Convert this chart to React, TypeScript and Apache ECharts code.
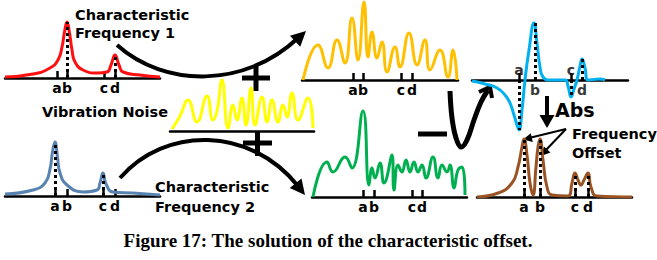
import React, { useEffect, useRef } from "react";
import * as echarts from "echarts";

// ---------- data (x: frequency position, y: amplitude above baseline) ----------
const tickNames = ["a", "b", "c", "d"];

const redCurve: [number, number][] = [
  [5, 1], [33, 4], [50, 10], [58, 18], [62, 31], [64.5, 46], [67, 56], [69.5, 45], [72, 28], [75, 16],
  [83, 8], [97, 5], [107, 6], [111, 13], [115, 23], [119, 13], [123, 6], [140, 3], [160, 1],
];
const redTicks = [57, 67, 104, 115];
const redDots: [number, number][] = [[67, 56], [115, 23]];

const blueCurve: [number, number][] = [
  [5, 2], [33, 6], [45, 13], [50, 27], [52.5, 44], [55, 54], [57.5, 39], [60, 23], [67, 11], [83, 4],
  [97, 6], [100, 13], [103, 23], [106, 12], [113, 4], [133, 3], [160, 1],
];
const blueTicks = [55, 67, 103, 115];
const blueDots: [number, number][] = [[55, 54], [103, 23]];

const yellowCurve: [number, number][] = [
  [172, 2], [180, 15], [188, 31], [197, 9], [207, 35], [213, 11], [217, 20], [222, 51], [228, 3],
  [233, 26], [237, 11], [242, 33], [246, 6], [251, 43], [255, 6], [262, 34], [267, 9], [272, 31],
  [278, 9], [283, 26], [287, 14], [292, 38], [298, 11], [308, 33], [313, 3],
];

const orangeCurve: [number, number][] = [
  [303, 0], [318, 35], [328, 12], [337, 40], [345, 17], [352, 62], [358, 20], [364, 78], [368, 23],
  [372, 48], [377, 22], [382, 38], [387, 8], [395, 33], [400, 13], [409, 47], [417, 15], [425, 40],
  [430, 10], [440, 30], [448, 3], [453, 30], [457, 0],
];
const orangeTicks = [353, 363, 401, 412];

const greenCurve: [number, number][] = [
  [313, 0], [327, 35], [333, 25], [345, 40], [352, 29], [363, 86], [369, 12], [372, 29], [375, 19],
  [380, 34], [384, 14], [392, 42], [394, 7], [398, 32], [402, 25], [406, 37], [410, 25], [414, 35],
  [418, 25], [422, 32], [426, 19], [433, 40], [438, 19], [442, 32], [447, 25], [450, 32], [454, 9],
  [458, 27], [462, 30], [465, 2],
];
const greenTicks = [363, 374, 412, 422];

const cyanCurve: [number, number][] = [
  [472, -1], [485, -4], [497, -8], [505, -15], [510, -23], [514, -35], [517, -45], [519, -50],
  [522, -30], [525, 0], [529, 30], [534, 57], [537, 37], [540, 13], [543, 3], [550, 0], [565, 0],
  [568, -6], [571, -17], [574, -9], [577, 0], [580, 14], [582, 21], [585, 12], [588, 0], [600, 1], [605, 0],
];
const cyanTicks = [519, 535, 571, 582];
const cyanDots: [number, number][] = [[519, -50], [535, 57], [571, -17], [582, 21]];

const brownCurve: [number, number][] = [
  [477, 0], [498, 4], [512, 14], [518, 30], [522, 50], [524, 58], [527, 42], [530, 14], [533, 2],
  [536, 30], [538, 50], [540, 58], [543, 37], [547, 10], [552, 2], [568, 1], [572, 14], [575, 24],
  [578, 17], [581, 12], [584, 17], [588, 24], [591, 10], [597, 1], [632, 0],
];
const brownTicks = [524, 540, 575, 588];
const brownDots: [number, number][] = [[524, 58], [540, 58], [575, 24], [588, 24]];

// ---------- layout ----------
type Panel = {
  color: string;
  curve: [number, number][];
  ticks: number[] | null;
  dots: [number, number][];
  x: [number, number];
  base: number;
  y: [number, number];
  split?: boolean;
};

const panels: Panel[] = [
  { color: "#ff1010", curve: redCurve, ticks: redTicks, dots: redDots, x: [5, 160], base: 78, y: [0, 60] },
  { color: "#5882b0", curve: blueCurve, ticks: blueTicks, dots: blueDots, x: [5, 160], base: 196, y: [0, 60] },
  { color: "#ffff00", curve: yellowCurve, ticks: null, dots: [], x: [170, 314], base: 131, y: [0, 55] },
  { color: "#ffc000", curve: orangeCurve, ticks: orangeTicks, dots: [], x: [302, 458], base: 80, y: [0, 80] },
  { color: "#00b050", curve: greenCurve, ticks: greenTicks, dots: [], x: [312, 467], base: 197, y: [0, 90] },
  { color: "#00b0f0", curve: cyanCurve, ticks: cyanTicks, dots: cyanDots, x: [472, 628], base: 80, y: [-55, 60], split: true },
  { color: "#9a5424", curve: brownCurve, ticks: brownTicks, dots: brownDots, x: [477, 632], base: 197, y: [0, 60] },
];

const LABEL_FONT = "DejaVu Sans";

function nameOf(ticks: number[], v: number) {
  const i = ticks.findIndex((t) => Math.abs(t - v) < 0.01);
  return i >= 0 ? tickNames[i] : "";
}

function arrowHead(tx: number, ty: number, dx: number, dy: number, len: number, half: number) {
  const n = Math.hypot(dx, dy);
  const ux = dx / n, uy = dy / n;
  const bx = tx - ux * len, by = ty - uy * len;
  return [[tx, ty], [bx - uy * half, by + ux * half], [bx + uy * half, by - ux * half]];
}

function buildOption() {
  const grid: any[] = [];
  const xAxis: any[] = [];
  const yAxis: any[] = [];
  const series: any[] = [];

  const labelBase = {
    fontFamily: LABEL_FONT,
    fontWeight: "bold",
    fontSize: 14,
    color: "#000",
  };

  panels.forEach((p, i) => {
    grid.push({
      left: p.x[0],
      width: p.x[1] - p.x[0],
      top: p.base - p.y[1],
      height: p.y[1] - p.y[0],
      containLabel: false,
    });
    const ticks = p.ticks || [];
    const axisTicksOn = !!p.ticks && !p.split;
    xAxis.push({
      type: "value",
      gridIndex: i,
      min: p.x[0],
      max: p.x[1],
      position: "bottom",
      splitLine: { show: false },
      axisLine: { show: true, onZero: true, lineStyle: { color: "#000", width: 2.5 } },
      axisTick: axisTicksOn
        ? { show: true, inside: true, length: 7, customValues: ticks, lineStyle: { color: "#000", width: 2.5 } }
        : { show: false },
      axisLabel: axisTicksOn
        ? {
            ...labelBase,
            show: true,
            margin: 3,
            customValues: ticks,
            formatter: (v: number) => nameOf(ticks, v),
          }
        : { show: false },
    });
    yAxis.push({ type: "value", gridIndex: i, min: p.y[0], max: p.y[1], show: false });

    series.push({
      type: "line",
      xAxisIndex: i,
      yAxisIndex: i,
      data: p.curve,
      smooth: 0.5,
      symbol: "none",
      silent: true,
      lineStyle: { color: p.color, width: 3 },
      z: 2,
      markLine: p.dots.length
        ? {
            silent: true,
            symbol: ["none", "none"],
            label: { show: false },
            lineStyle: { color: "#000", width: 3, type: [3, 3] },
            z: 4,
            data: p.dots.map(([x, h]) => [{ coord: [x, 0] }, { coord: [x, h] }]),
          }
        : undefined,
    });

    if (p.split) {
      // labels alternate above / below the zero line
      series.push({
        type: "scatter",
        xAxisIndex: i,
        yAxisIndex: i,
        silent: true,
        symbolSize: 1,
        itemStyle: { color: "transparent" },
        z: 5,
        data: ticks.map((x, k) => ({
          value: [x, 0],
          label: {
            show: true,
            position: k % 2 === 0 ? "top" : "bottom",
            distance: k % 2 === 0 ? 3 : 2,
            formatter: tickNames[k],
            ...labelBase,
          },
        })),
        markLine: {
          silent: true,
          symbol: ["none", "none"],
          label: { show: false },
          lineStyle: { color: "#000", width: 2.5, type: "solid" },
          data: ticks
            .filter((_, k) => k % 2 === 0)
            .map((x) => [{ coord: [x, 0] }, { coord: [x, 7] }]),
        },
      });
    }
  });

  const txt = (text: string, x: number, y: number, size = 14.5) => ({
    type: "text",
    x,
    y,
    silent: true,
    style: {
      text,
      fill: "#000",
      font: `bold ${size}px "${LABEL_FONT}"`,
      align: "left",
      verticalAlign: "middle",
    },
  });

  const black = { stroke: "#000", fill: "none" };

  const graphic: any[] = [
    // big curved arrows
    {
      type: "bezierCurve",
      silent: true,
      shape: { x1: 117, y1: 45, cpx1: 165, cpy1: 88, cpx2: 245, cpy2: 88, x2: 298, y2: 38 },
      style: { ...black, lineWidth: 4 },
    },
    { type: "polygon", silent: true, shape: { points: arrowHead(306, 31, 53, -50, 15, 7.5) }, style: { fill: "#000" } },
    {
      type: "bezierCurve",
      silent: true,
      shape: { x1: 120, y1: 178, cpx1: 165, cpy1: 126, cpx2: 250, cpy2: 126, x2: 298, y2: 186 },
      style: { ...black, lineWidth: 4 },
    },
    { type: "polygon", silent: true, shape: { points: arrowHead(305, 195, 48, 60, 15, 7.5) }, style: { fill: "#000" } },
    // plus signs
    { type: "rect", silent: true, shape: { x: 242, y: 75.5, width: 28, height: 5 }, style: { fill: "#000" } },
    { type: "rect", silent: true, shape: { x: 253.5, y: 66, width: 5, height: 25 }, style: { fill: "#000" } },
    { type: "rect", silent: true, shape: { x: 243, y: 140.5, width: 29, height: 5 }, style: { fill: "#000" } },
    { type: "rect", silent: true, shape: { x: 255, y: 131, width: 5, height: 25 }, style: { fill: "#000" } },
    // minus sign
    { type: "rect", silent: true, shape: { x: 418, y: 131.5, width: 29, height: 5 }, style: { fill: "#000" } },
    // V-shaped arrow
    {
      type: "polyline",
      silent: true,
      shape: {
        points: [[450, 91], [452, 118], [456, 138], [461, 147], [467, 140], [474, 120], [481, 102], [488, 90]],
        smooth: 0.4,
      },
      style: { ...black, lineWidth: 5 },
    },
    {
      type: "polyline",
      silent: true,
      shape: { points: [[479, 92], [490, 87], [492, 98]] },
      style: { ...black, lineWidth: 4, lineJoin: "miter" },
    },
    // Abs arrow
    { type: "line", silent: true, shape: { x1: 547, y1: 96, x2: 547, y2: 117 }, style: { stroke: "#000", lineWidth: 4 } },
    { type: "polygon", silent: true, shape: { points: [[539.5, 115], [554.5, 115], [547, 128]] }, style: { fill: "#000" } },
    // frequency offset arrows
    { type: "line", silent: true, shape: { x1: 566, y1: 129, x2: 529, y2: 138 }, style: { stroke: "#000", lineWidth: 2 } },
    { type: "polygon", silent: true, shape: { points: arrowHead(523, 139.5, -43, 9.5, 9, 4.5) }, style: { fill: "#000" } },
    { type: "line", silent: true, shape: { x1: 566, y1: 129, x2: 545, y2: 151 }, style: { stroke: "#000", lineWidth: 2 } },
    { type: "polygon", silent: true, shape: { points: arrowHead(541, 156, -22, 23, 9, 4.5) }, style: { fill: "#000" } },
    // texts
    txt("Characteristic", 75, 15),
    txt("Frequency 1", 75, 33),
    txt("Vibration Noise", 42, 112),
    txt("Characteristic", 155, 187),
    txt("Frequency 2", 155, 207),
    txt("Abs", 555, 110, 19),
    txt("Frequency", 572, 134),
    txt("Offset", 572, 153),
    {
      type: "text",
      x: 328,
      y: 240,
      silent: true,
      style: {
        text: "Figure 17: The solution of the characteristic offset.",
        fill: "#000",
        font: 'bold 19px "Liberation Serif"',
        align: "center",
        verticalAlign: "middle",
      },
    },
  ];

  return {
    animation: false,
    backgroundColor: "#fff",
    grid,
    xAxis,
    yAxis,
    series,
    graphic,
  };
}

export default function App() {
  const ref = useRef<HTMLDivElement>(null);
  useEffect(() => {
    if (!ref.current) return;
    const chart = echarts.init(ref.current, undefined, { renderer: "svg" });
    chart.setOption(buildOption() as any);
    return () => chart.dispose();
  }, []);
  return (
    <div
      ref={ref}
      style={{ position: "fixed", left: 0, top: 0, width: 657, height: 260, background: "#fff" }}
    />
  );
}
